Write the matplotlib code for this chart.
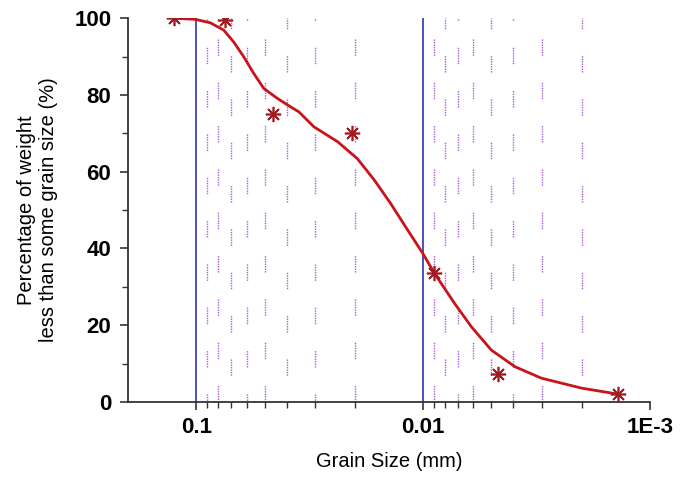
import matplotlib
matplotlib.use("Agg")
import matplotlib.pyplot as plt
from matplotlib.ticker import FixedLocator, NullFormatter

# measured points (grain size mm, % passing)
size_pts = [0.125, 0.0744, 0.0458, 0.0205, 0.00897, 0.00468, 0.00139]
pct_pts = [100, 99.5, 75, 70, 33.6, 7.3, 2.1]

# fitted curve
size_fit = [0.1260, 0.1010, 0.0867, 0.0757, 0.0684, 0.0617, 0.0558, 0.0504, 0.0439,
            0.0384, 0.0353, 0.0303, 0.0238, 0.0195, 0.0164, 0.0139, 0.0117, 0.01003,
            0.00891, 0.00727, 0.00613, 0.00500, 0.00394, 0.00301, 0.00200, 0.00140]
pct_fit = [100, 99.7, 98.8, 96.9, 93.8, 89.9, 85.6, 81.7, 79.1, 76.9, 75.6, 71.7,
           67.8, 63.4, 57.8, 51.7, 44.8, 38.7, 33.5, 25.7, 19.6, 13.5, 9.2, 6.2,
           3.6, 2.1]

major_x = [0.1, 0.01, 0.001]
major_labels = ["0.1", "0.01", "1E-3"]
minor_x = [m * d for d in (0.01, 0.001) for m in range(2, 10)]

plt.rcParams['font.family'] = ['Liberation Sans', 'DejaVu Sans']

fig = plt.figure(figsize=(6.9, 4.79), dpi=100)
ax = fig.add_axes([0.1855, 0.1608, 0.7565, 0.8012])

ax.set_xscale("log")
ax.set_xlim(0.2, 0.001)
ax.set_ylim(0, 100)

# grid lines: blue at decades, purple dotted at minor positions
for xv in major_x[:2]:
    ax.plot([xv, xv], [0, 100], color="#1f1fa8", lw=1.1, zorder=1)
for i, xv in enumerate(minor_x):
    dash = (1, 0.8) * 6 + (1, 19.4)
    ax.plot([xv, xv], [0, 100], color="#a860d8", lw=1.0,
            linestyle=((i % 3) * 6, dash), zorder=1)

ax.plot(size_fit, pct_fit, color="#c8141a", lw=2.0, zorder=3,
        solid_joinstyle="round")
ax.plot(size_pts, pct_pts, linestyle="none", marker=(8, 2, 0), markersize=11,
        markeredgecolor="#a01c22", markeredgewidth=1.2, zorder=4)

ax.xaxis.set_major_locator(FixedLocator(major_x))
ax.set_xticklabels(major_labels)
ax.xaxis.set_minor_locator(FixedLocator(minor_x))
ax.xaxis.set_minor_formatter(NullFormatter())
ax.set_yticks([0, 20, 40, 60, 80, 100])
ax.set_yticks([10, 30, 50, 70, 90], minor=True)

for s in ("top", "right"):
    ax.spines[s].set_visible(False)
for s in ("left", "bottom"):
    ax.spines[s].set_linewidth(1.3)
    ax.spines[s].set_color("#333333")

ax.tick_params(which="major", direction="out", length=6, width=1.2, color="#333333",
               labelsize=16, pad=6)
ax.tick_params(which="minor", direction="out", length=4, width=1.0, color="#333333")
ax.tick_params(axis="x", which="major", pad=5)
for lab in ax.get_xticklabels() + ax.get_yticklabels():
    lab.set_fontweight("bold")

ax.set_xlabel("Grain Size (mm)", fontsize=14.5, labelpad=10)
ax.set_ylabel("Percentage of weight\nless than some grain size (%)", fontsize=14.5,
              labelpad=12)

fig.savefig("out.png", dpi=100)
